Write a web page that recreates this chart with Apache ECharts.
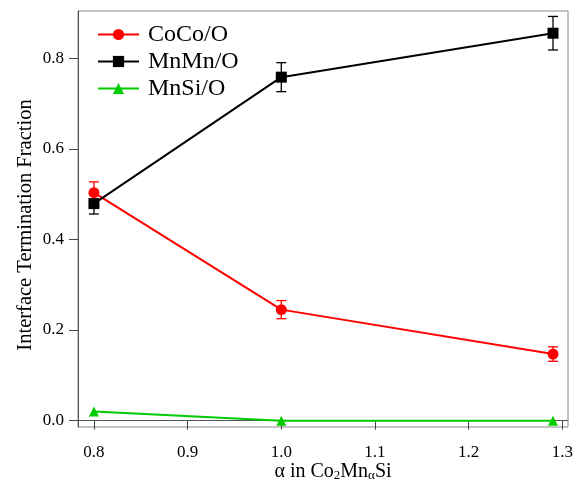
<!DOCTYPE html>
<html>
<head>
    <meta charset="UTF-8">
    <title>Interface Termination Fraction</title>
    <script src="https://cdn.jsdelivr.net/npm/echarts@6/dist/echarts.min.js"></script>
    <style>
        html, body { margin: 0; padding: 0; background: #fff; }
        #chart { width: 585px; height: 480px; }
    </style>
</head>
<body>
<div id="chart"></div>
<script>
    // data
    var alphaValues = [0.8, 1.0, 1.29];
    var cocoValues = [0.503, 0.245, 0.147];
    var cocoErrors = [0.024, 0.02, 0.016];
    var mnmnValues = [0.479, 0.758, 0.855];
    var mnmnErrors = [0.023, 0.032, 0.037];
    var mnsiValues = [0.02, 0.0, 0.0];
    var xTicks = [0.8, 0.9, 1.0, 1.1, 1.2, 1.3];
    var yTicks = [0.0, 0.2, 0.4, 0.6, 0.8];

    var serif = '"Liberation Serif", "DejaVu Serif", serif';

    function pairs(vals) {
        return alphaValues.map(function (a, i) { return [a, vals[i]]; });
    }

    function errData(vals, errs) {
        return alphaValues.map(function (a, i) { return [a, vals[i] - errs[i], vals[i] + errs[i]]; });
    }

    // error bars, drawn under the markers
    function errorSeries(name, vals, errs, color) {
        return {
            name: name,
            type: 'custom',
            data: errData(vals, errs),
            z: 1,
            renderItem: function (params, api) {
                var lo = api.coord([api.value(0), api.value(1)]);
                var hi = api.coord([api.value(0), api.value(2)]);
                var w = 5;
                var st = { stroke: color, lineWidth: 1.3 };
                return {
                    type: 'group',
                    children: [
                        { type: 'line', shape: { x1: lo[0], y1: lo[1], x2: hi[0], y2: hi[1] }, style: st },
                        { type: 'line', shape: { x1: lo[0] - w, y1: lo[1], x2: lo[0] + w, y2: lo[1] }, style: st },
                        { type: 'line', shape: { x1: hi[0] - w, y1: hi[1], x2: hi[0] + w, y2: hi[1] }, style: st }
                    ]
                };
            }
        };
    }

    function lineSeries(name, vals, color, symbol, size) {
        return {
            name: name,
            type: 'line',
            data: pairs(vals),
            symbol: symbol,
            symbolSize: size,
            z: 3,
            itemStyle: { color: color },
            lineStyle: { color: color, width: 2 }
        };
    }

    var chart = echarts.init(document.getElementById('chart'));
    chart.setOption({
        animation: false,
        grid: {
            left: 78, right: 17, top: 11, bottom: 53,
            outerBoundsMode: 'none', containLabel: false,
            show: true, borderColor: '#888', borderWidth: 1
        },
        legend: {
            orient: 'vertical',
            left: 97,
            top: 22,
            padding: 0,
            itemWidth: 41,
            itemHeight: 14,
            itemGap: 2,
            data: ['CoCo/O', 'MnMn/O', 'MnSi/O'],
            textStyle: { fontFamily: serif, fontSize: 24, lineHeight: 25, color: '#000', padding: [0, 0, 0, 4] }
        },
        xAxis: {
            type: 'value',
            min: 0.783,
            max: 1.306,
            name: 'α in Co{sub|2}Mn{sub|α}Si',
            nameLocation: 'middle',
            nameGap: 34,
            nameMoveOverlap: false,
            nameTextStyle: {
                fontFamily: serif, fontSize: 20, color: '#000', padding: [0, 0, 0, 20],
                rich: { sub: { fontFamily: serif, fontSize: 13, color: '#000', padding: [8, 0, 0, 0] } }
            },
            splitLine: { show: false },
            axisLine: { lineStyle: { color: '#555', width: 1 } },
            axisTick: { show: true, customValues: xTicks, length: 9, lineStyle: { color: '#444' } },
            axisLabel: {
                customValues: xTicks, margin: 17, color: '#000',
                fontFamily: serif, fontSize: 17,
                formatter: function (v) { return v.toFixed(1); }
            }
        },
        yAxis: {
            type: 'value',
            min: -0.014,
            max: 0.904,
            name: 'Interface Termination Fraction',
            nameLocation: 'middle',
            nameGap: 42,
            nameMoveOverlap: false,
            nameTextStyle: { fontFamily: serif, fontSize: 20.5, color: '#000', padding: [0, 12, 0, 0] },
            splitLine: { show: false },
            axisLine: { show: true, lineStyle: { color: '#555', width: 1 } },
            axisTick: { show: true, customValues: yTicks, length: 9, lineStyle: { color: '#444' } },
            axisLabel: {
                customValues: yTicks, margin: 14, color: '#000',
                fontFamily: serif, fontSize: 17,
                formatter: function (v) { return v.toFixed(1); }
            }
        },
        series: [
            errorSeries('CoCo/O error', cocoValues, cocoErrors, '#ff0000'),
            errorSeries('MnMn/O error', mnmnValues, mnmnErrors, '#000000'),
            lineSeries('CoCo/O', cocoValues, '#ff0000', 'circle', 11),
            lineSeries('MnMn/O', mnmnValues, '#000000', 'rect', 11),
            lineSeries('MnSi/O', mnsiValues, '#00cc00', 'triangle', 10)
        ]
    });
</script>
</body>
</html>
